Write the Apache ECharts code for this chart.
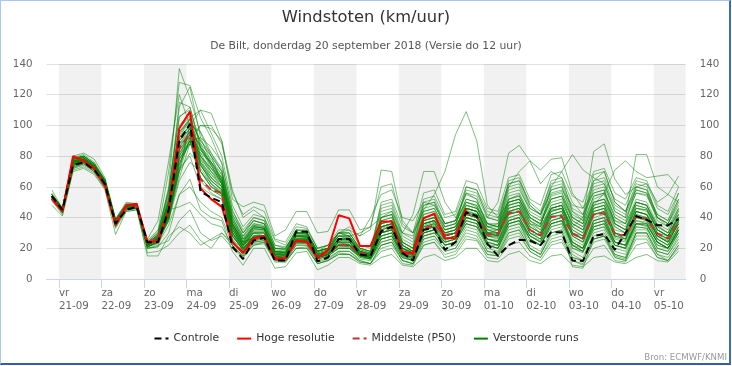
<!DOCTYPE html>
<html>
<head>
<meta charset="utf-8">
<script src="https://cdn.jsdelivr.net/npm/echarts@6/dist/echarts.min.js"></script>
<style>
html,body{margin:0;padding:0;background:#fff;}
#c{position:absolute;left:0;top:0;width:732px;height:366px;}
#frame{position:absolute;left:0;top:0;width:728px;height:362px;border-left:1px solid #a9c8ee;border-top:1px solid #a9c8ee;border-right:2px solid #3a6cc0;border-bottom:2px solid #2f5fae;pointer-events:none;}
</style>
</head>
<body>
<div id="c"></div>
<div id="frame"></div>
<script>
// ---- categories / tick labels ----
const dayNames  = ['vr','za','zo','ma','di','wo','do','vr','za','zo','ma','di','wo','do','vr'];
const dayDates  = ['21-09','22-09','23-09','24-09','25-09','26-09','27-09','28-09','29-09','30-09','01-10','02-10','03-10','04-10','05-10'];
const yTicks    = [0,20,40,60,80,100,120,140];
// time of first value (hours relative to 21-09 00:00) and step between values
const firstHour = -4, stepHours = 6;

// ---- series values (km/uur) ----
const control = [54,45,74,76,71,62,36,45,47,24,24, 45,90,101,57,53,50, 21,13,25,27,12,12,31,31,11.5,14,26,26,16,15,
  31,34,17,12,32,33,19,24,43.5,41,23,15,22,25.5,25,22,30.5,30.5,12,11.8,28,29.3,19,30,41,38.5,35,35,39];
const hres = [52,44,80,77,72,61,35,48,49,23.5,25, 45,98,109,59,52,47, 24,17,26.5,28,13,13.5,25,24,13.5,19,41.5,39.5,21.5,21.5,
  37.5,37.5,17.5,17,39.5,42.5,26.5,26.5,46];
const p50 = [53,45,74,76,71,60,37,46,47,24,27, 45,85,95,65,58,56, 24,17,26,27,14,14,25,25,15,17,22,22,17,15.5,
  32,34,18,14.5,33,35,28.7,29.7,43.2,40.6,28.7,29.5,43,44,32,28.5,40.6,41,29.5,26.5,42,42.8,28.7,28.7,40.6,39,29.5,26.5,37];

const perturbed = [
 [55,45,78,80,75,64,37,48,48,24,30, 60,137,118,95,80,62, 38,26,35,33,17,16,28,27,14,18,24,22,15,14, 30,33,18,15,38,40,30,32,50,47,30,28,48,50,36,30,45,46,28,24,40,42,27,25,44,42,30,28,40],
 [56,46,80,82,78,66,39,50,49,25,32, 70,128,126,105,92,75, 45,30,38,36,20,20,30,30,16,18,28,26,18,16, 36,38,20,17,35,37,25,28,45,42,26,24,40,42,30,26,38,40,22,20,36,38,22,20,38,36,24,20,32],
 [54,44,74,77,72,62,36,46,47,22,26, 38,70,100,110,108,90, 58,40,45,40,25,22,34,33,20,22,30,30,20,18, 34,36,22,18,40,42,28,30,44,40,24,22,36,38,28,25,40,42,20,17,34,36,24,22,36,34,20,18,30],
 [52,43,72,75,70,60,34,45,46,20,22, 25,38,45,30,25,28, 20,14,22,24,12,12,22,22,11,13,18,18,12,10, 22,24,12,10,26,28,18,20,32,30,18,17,30,32,20,16,28,30,14,12,26,28,16,14,30,30,18,16,26],
 [53,45,76,78,73,63,38,47,47,22,27, 46,80,96,82,70,60, 30,20,27,28,15,14,26,26,15,17,22,22,17,15, 32,34,18,14,33,35,29,30,43,41,29,29,43,44,32,28,41,41,29,26,42,43,28,28,41,39,29,26,37],
 [54,46,79,79,74,65,39,49,48,26,38, 77,120,100,75,62,55, 30,22,30,30,16,16,28,27,15,16,26,25,16,14, 40,42,24,20,50,52,36,38,55,52,34,32,52,55,40,35,55,57,38,34,52,55,36,32,50,48,35,30,45],
 [51,42,70,72,68,58,29,44,45,17,18, 22,30,35,25,20,30, 24,16,24,25,13,12,20,21,10,12,17,16,11,10, 18,20,10,9,22,24,14,16,26,25,14,13,22,24,15,12,22,24,12,9,20,22,12,11,22,24,14,12,20],
 [55,46,77,79,74,63,37,48,48,23,28, 52,95,105,110,95,80, 48,34,42,40,22,20,32,30,18,20,28,27,18,16, 28,30,16,14,30,32,24,26,38,36,22,20,34,36,24,22,34,36,20,18,32,34,20,18,34,33,22,20,32],
 [53,44,75,77,72,62,37,46,47,22,25, 42,80,92,70,60,55, 25,17,26,27,14,14,24,24,14,16,22,22,16,15, 40,44,30,28,45,55,70,94,109,90,48,40,50,52,38,32,46,48,32,28,42,44,30,28,42,40,28,25,36],
 [54,45,77,78,73,63,38,47,47,22,27, 48,90,98,85,75,65, 34,22,30,30,16,15,26,26,14,16,24,24,16,14, 34,36,20,18,36,38,30,32,48,46,40,50,82,87,77,62,70,66,50,42,56,58,40,36,50,48,34,30,40],
 [52,44,74,76,71,61,36,46,46,21,24, 40,75,90,64,56,52, 24,16,25,26,13,13,24,24,13,15,20,20,15,13, 26,28,16,14,30,32,24,26,40,38,26,25,40,42,30,28,44,46,34,40,83,88,65,55,60,58,40,34,42],
 [53,45,76,77,72,62,37,47,47,22,26, 44,82,94,80,72,62, 32,20,27,28,14,14,25,25,14,16,22,22,16,15, 30,32,18,16,34,36,28,30,42,40,30,30,46,48,36,34,60,70,81,71,66,62,44,40,81,81,60,55,50],
 [55,46,78,80,75,64,38,48,48,23,29, 55,100,108,80,68,62, 36,24,34,33,18,18,30,29,16,18,30,34,28,32, 71,70,38,30,48,50,34,36,52,50,36,34,50,52,38,34,46,48,30,28,44,46,30,28,44,42,30,26,38],
 [54,45,76,78,73,62,37,47,47,22,27, 50,92,100,74,64,58, 32,22,32,32,17,16,28,28,16,18,26,26,18,16, 36,38,30,42,70,70,50,40,56,52,36,34,52,54,40,36,50,52,36,32,48,50,34,30,46,44,30,26,40],
 [52,43,73,75,70,60,35,45,46,20,21, 30,55,65,45,40,38, 18,9,20,20,7,8,17,18,6,9,14,14,10,9, 14,16,9,8,14,16,12,14,20,20,12,11,16,18,12,10,15,16,9,8,14,15,11,10,14,16,12,11,18],
 [58,46,79,81,76,65,39,49,49,24,31, 58,105,112,85,72,66, 40,28,38,36,20,19,32,31,18,20,30,28,18,16, 38,40,22,18,42,44,32,34,60,58,40,38,62,64,48,42,64,66,44,38,68,70,50,44,62,60,40,36,52],
 [54,45,77,79,74,64,38,48,48,23,28, 50,115,112,88,74,62, 34,23,33,32,17,17,28,28,15,17,24,24,16,15, 30,32,18,15,34,36,26,28,40,38,26,25,38,40,28,24,38,40,26,22,38,40,26,24,40,38,26,22,34],
 [53,45,75,77,72,62,38,47,47,22,26, 42,72,100,96,82,70, 42,30,40,38,22,21,30,30,18,20,26,26,18,17, 33,35,20,17,36,38,32,34,46,44,34,36,54,56,42,38,52,54,38,34,50,52,36,32,46,45,32,28,38],
 [52,44,73,75,71,61,35,46,46,21,23, 35,55,60,50,44,40, 22,15,24,25,12,12,22,22,12,14,18,18,13,12, 24,26,14,12,28,30,22,24,36,34,22,20,34,36,26,22,34,36,22,18,32,34,22,20,34,33,22,20,30],
 [54,45,76,78,73,63,37,47,47,22,26, 44,88,92,78,70,64, 34,20,26,27,14,13,24,24,14,16,22,21,15,14, 42,44,24,20,40,42,28,30,44,42,28,28,44,46,30,26,40,42,24,20,38,40,24,22,40,40,26,22,38],
 [53,44,74,76,71,61,36,46,47,21,25, 40,72,80,60,55,52, 28,19,28,28,14,14,26,26,14,16,24,24,17,15, 28,30,16,13,32,34,24,26,42,40,26,24,42,44,32,28,44,46,30,26,44,46,30,28,44,42,28,24,36],
 [55,46,79,80,75,64,38,48,48,23,29, 56,112,125,92,76,64, 36,25,35,34,18,17,28,28,16,18,26,26,17,16, 34,36,20,17,38,40,28,30,46,44,30,28,46,48,34,30,46,48,30,26,46,48,30,26,44,42,28,24,36],
 [53,45,76,77,72,62,37,47,47,22,27, 45,84,94,84,74,62, 34,22,28,28,15,15,25,25,15,16,22,22,16,14, 24,26,14,12,26,28,20,22,34,32,18,16,30,32,20,16,30,32,16,12,28,30,16,14,30,30,18,16,28],
 [54,45,76,78,73,63,37,47,47,22,26, 40,66,88,100,100,88, 56,42,47,44,26,24,36,34,20,22,30,28,18,16, 32,34,18,16,36,38,28,30,42,40,28,26,42,44,30,26,42,44,28,24,42,44,28,26,40,38,26,22,34],
 [52,43,72,74,70,60,34,45,46,20,21, 45,47,50,42,36,34, 22,14,22,23,11,11,20,20,10,12,16,16,12,10, 22,24,12,10,22,24,16,18,28,26,16,15,26,28,18,14,26,28,14,12,26,28,15,13,28,28,16,14,24],
 [55,46,78,79,74,64,38,48,48,23,28, 50,96,102,76,66,60, 35,24,34,33,18,17,30,30,18,20,28,28,20,18, 38,40,24,20,42,44,34,36,50,48,34,32,50,52,40,36,52,54,40,36,54,56,42,38,56,54,40,36,48],
 [53,44,75,76,72,62,36,46,46,21,24, 38,78,88,80,72,64, 36,24,27,27,14,14,24,24,14,16,20,20,14,13, 26,28,15,13,30,32,24,26,38,36,22,20,36,38,26,22,36,38,22,18,36,38,24,22,36,35,24,20,32],
 [54,45,77,78,73,63,37,47,47,22,27, 48,92,100,72,62,57, 30,21,30,30,16,15,26,26,15,17,24,24,16,15, 34,36,20,16,38,40,30,32,46,44,30,30,50,52,40,36,52,54,34,30,50,52,38,36,60,62,50,55,67],
 [52,44,74,76,71,61,36,46,46,21,24, 42,80,90,76,68,60, 30,18,25,26,13,13,23,23,13,15,20,20,15,13, 30,32,18,15,32,34,22,24,36,34,20,18,32,34,22,18,32,34,18,14,30,32,18,16,32,32,20,18,30],
 [55,46,78,80,75,64,38,48,48,23,29, 52,98,106,78,66,60, 32,22,32,32,17,17,28,28,16,18,26,26,17,16, 36,38,22,18,40,42,30,32,48,46,34,34,64,66,48,42,58,60,40,36,64,70,50,44,58,56,38,34,46],
 [53,45,76,77,72,62,37,47,47,22,26, 44,86,94,88,80,70, 40,26,30,28,14,14,25,25,14,16,22,22,16,14, 28,30,16,13,30,32,22,24,40,38,22,20,36,38,20,16,30,32,8,7,26,28,14,12,30,30,16,12,22],
 [54,45,77,78,73,63,37,47,47,22,27, 47,90,98,70,60,56, 28,20,28,28,15,15,26,26,16,18,24,28,30,34, 60,62,36,30,44,46,32,34,46,44,30,30,44,46,32,28,42,44,28,24,42,44,28,26,42,40,28,24,38],
 [53,44,75,77,72,62,36,46,47,21,25, 40,76,88,82,76,68, 38,24,27,26,13,13,23,23,13,15,20,20,14,13, 22,24,14,12,28,30,26,28,40,38,26,24,38,40,28,24,36,38,24,20,34,36,22,20,36,36,24,20,34],
 [54,45,76,78,73,62,37,47,47,22,26, 46,88,96,70,60,56, 28,19,28,28,15,14,25,25,15,17,22,22,16,14, 30,32,18,16,36,38,28,30,44,42,30,32,60,70,77,71,78,79,56,46,56,58,36,32,50,48,32,28,40],
 [53,45,76,77,72,62,37,47,47,22,26, 43,82,92,66,58,54, 26,18,27,27,14,14,25,25,14,16,22,22,16,14, 30,32,18,16,32,34,26,28,40,38,28,28,42,44,32,28,42,44,30,26,48,56,71,77,70,66,67,68,60],
 [48,41,71,73,69,59,33,44,45,15,15, 28,34,30,22,26,30, 22,15,23,24,12,11,20,20,10,12,16,16,11,10, 20,22,12,10,24,26,18,20,30,28,16,15,28,30,18,14,24,26,12,10,24,26,14,12,26,26,14,12,22],
 [54,45,77,78,73,63,37,47,47,22,27, 44,70,92,100,98,90, 52,47,50,48,28,32,44,44,30,31,45,45,32,34, 40,42,22,18,38,40,30,32,46,44,30,28,44,46,32,28,44,46,30,26,44,46,30,26,44,42,28,24,36],
 [55,46,78,79,74,64,38,48,48,23,28, 50,94,104,76,64,58, 34,23,33,32,17,16,28,28,16,18,26,26,17,15, 34,36,20,16,36,38,26,28,40,38,24,22,38,40,28,24,38,40,24,20,38,40,24,22,38,37,24,20,32],
 [53,44,75,77,72,62,36,46,46,21,24, 40,78,90,66,58,54, 30,21,30,30,16,16,26,26,18,22,30,32,28,40, 55,58,40,38,50,48,36,38,50,48,32,30,46,48,34,30,46,48,32,28,46,48,32,30,48,46,32,28,42],
 [54,45,76,78,73,63,37,47,47,22,27, 46,88,98,86,76,66, 36,22,27,27,14,14,25,25,14,16,22,22,16,14, 26,28,16,14,30,32,22,24,38,36,22,22,38,40,26,22,36,38,22,18,34,36,22,20,36,36,24,20,32],
 [54,45,77,78,73,63,38,47,48,23,27, 50,92,104,90,80,70, 40,28,36,34,18,18,30,30,18,20,30,30,20,18, 44,46,26,22,46,48,36,38,56,54,40,38,58,60,44,40,58,60,42,38,58,60,44,40,56,55,40,36,50],
 [53,45,75,77,72,62,37,46,47,22,26, 42,74,90,92,86,76, 44,32,40,38,20,20,32,32,20,22,32,32,22,20, 48,50,30,26,52,54,40,42,60,58,44,42,62,64,50,44,62,64,46,42,62,64,48,44,60,58,42,38,56],
 [55,46,78,80,75,64,38,48,48,24,30, 58,106,110,86,74,64, 36,24,34,33,18,17,29,29,17,19,28,28,19,17, 36,38,22,18,40,42,32,34,48,46,36,36,56,58,46,42,56,58,48,46,64,66,52,48,64,62,46,42,56],
 [52,44,74,76,71,61,36,46,46,21,24, 40,70,82,74,66,58, 30,20,28,28,15,14,25,25,14,16,22,22,15,14, 28,30,17,14,32,34,26,28,42,40,28,27,44,46,34,30,46,48,34,30,46,48,34,30,46,45,32,28,40],
 [54,45,76,78,73,63,37,47,47,22,27, 46,86,96,80,70,62, 32,22,31,31,16,16,27,27,16,18,25,25,17,15, 40,42,24,20,44,46,34,36,52,50,36,34,52,54,42,38,54,56,40,36,54,56,40,36,52,50,36,32,46],
 [53,44,75,77,72,62,37,46,47,22,25, 42,78,90,84,76,66, 36,26,34,33,18,17,28,28,17,19,26,26,18,16, 50,52,34,30,56,58,42,44,64,62,46,44,66,68,52,48,68,70,54,50,70,72,56,52,66,64,48,44,60],
 [55,46,78,79,74,64,38,48,48,23,28, 52,96,104,90,82,72, 42,30,38,36,20,19,30,30,18,20,28,28,19,17, 34,36,20,17,36,38,28,30,46,44,32,32,48,50,38,34,48,50,36,32,50,52,38,34,50,48,34,30,44],
 [53,45,76,77,72,62,37,47,47,22,26, 44,84,94,74,64,58, 28,19,28,28,15,15,26,26,15,17,23,23,16,14, 32,34,19,16,34,36,28,30,46,44,32,30,48,50,36,32,48,50,36,32,48,50,36,32,48,46,32,28,42],
 [54,45,77,78,73,63,37,47,47,22,27, 48,90,100,86,78,68, 38,27,36,35,19,18,30,30,18,20,30,30,20,18, 46,48,28,24,48,50,36,38,58,56,42,40,60,62,46,42,60,62,44,40,60,62,46,42,58,56,42,38,52],
 [52,44,74,76,71,61,36,46,46,21,24, 38,64,76,70,62,56, 28,19,27,27,14,14,24,24,14,16,21,21,15,13, 26,28,15,12,28,30,22,24,36,34,24,22,36,38,26,22,36,38,24,20,36,38,24,22,36,35,24,20,32]
];

// ---- chart ----
const X_MIN = -7, X_MAX = 354;
const FONT = 'DejaVu Sans';
const toPoints = vals => vals.map((v, i) => [firstHour + i * stepHours, v]);
const dayHours = dayDates.map((d, k) => k * 24);

const bands = [];
dayHours.forEach((h, k) => {
  if (k % 2 === 0) bands.push([{ xAxis: h }, { xAxis: Math.min(h + 24, X_MAX) }]);
});

const series = [];
series.push({
  type: 'line', data: [], silent: true, z: 1,
  markArea: { silent: true, itemStyle: { color: 'rgba(0,0,0,0.055)' }, data: bands }
});
perturbed.forEach(vals => {
  series.push({
    name: 'Verstoorde runs', type: 'line', data: toPoints(vals), symbol: 'none', silent: true, z: 2,
    lineStyle: { color: '#008000', width: 1, opacity: 0.5 }, itemStyle: { color: '#008000' }
  });
});
series.push({
  name: 'Middelste (P50)', type: 'line', data: toPoints(p50), symbol: 'none', silent: true, z: 3,
  lineStyle: { color: '#c83232', width: 2, type: [7, 4] }, itemStyle: { color: '#c83232' }
});
series.push({
  name: 'Hoge resolutie', type: 'line', data: toPoints(hres), symbol: 'none', silent: true, z: 4,
  lineStyle: { color: '#ff0000', width: 2 }, itemStyle: { color: '#ff0000' }
});
series.push({
  name: 'Controle', type: 'line', data: toPoints(control), symbol: 'none', silent: true, z: 5,
  lineStyle: { color: '#000000', width: 2, type: [7, 4] }, itemStyle: { color: '#000000' }
});

const yAxisBase = {
  type: 'value', min: yTicks[0], max: yTicks[yTicks.length - 1], interval: yTicks[1] - yTicks[0],
  axisLine: { show: false }, axisTick: { show: false },
  axisLabel: { color: '#666', fontSize: 10.3, fontFamily: FONT, margin: 14 }
};

const option = {
  animation: false,
  textStyle: { fontFamily: FONT },
  title: [
    { text: 'Windstoten (km/uur)', left: 'center', top: 5,
      textStyle: { fontSize: 16.3, fontWeight: 'normal', color: '#333', fontFamily: FONT } },
    { text: 'De Bilt, donderdag 20 september 2018 (Versie do 12 uur)', left: 'center', top: 36,
      textStyle: { fontSize: 10.8, fontWeight: 'normal', color: '#555', fontFamily: FONT } }
  ],
  grid: { left: 46.5, right: 46.3, top: 64, bottom: 87, containLabel: false, outerBoundsMode: 'none' },
  legend: {
    top: 328, left: 'center', itemWidth: 14, itemHeight: 14, itemGap: 17,
    itemStyle: { opacity: 0 },
    textStyle: { color: '#333', fontSize: 10.8, fontFamily: FONT },
    data: [
      { name: 'Controle' },
      { name: 'Hoge resolutie' },
      { name: 'Middelste (P50)' },
      { name: 'Verstoorde runs', lineStyle: { opacity: 1, width: 2 } }
    ],
    selectedMode: false
  },
  xAxis: {
    type: 'value', min: X_MIN, max: X_MAX,
    axisLine: { show: true, lineStyle: { color: '#ccd6eb' } },
    axisTick: { show: true, length: 9, customValues: dayHours, lineStyle: { color: '#ccd6eb' } },
    splitLine: { show: false },
    axisLabel: {
      customValues: dayHours, align: 'left', color: '#666', fontSize: 10.3, fontFamily: FONT,
      lineHeight: 13, margin: 8,
      formatter: v => { const k = Math.round(v / 24); return dayNames[k] + '\n' + dayDates[k]; }
    }
  },
  yAxis: [
    Object.assign({}, yAxisBase, { position: 'left', splitLine: { show: true, lineStyle: { color: '#e0e0e0' } } }),
    Object.assign({}, yAxisBase, { position: 'right', splitLine: { show: false } })
  ],
  graphic: [
    { type: 'text', right: 5, top: 353, style: { text: 'Bron: ECMWF/KNMI', fill: '#999', fontSize: 8.6, fontFamily: FONT } }
  ],
  series: series
};

const chart = echarts.init(document.getElementById('c'), null, { renderer: 'canvas' });
chart.setOption(option);
</script>
</body>
</html>
